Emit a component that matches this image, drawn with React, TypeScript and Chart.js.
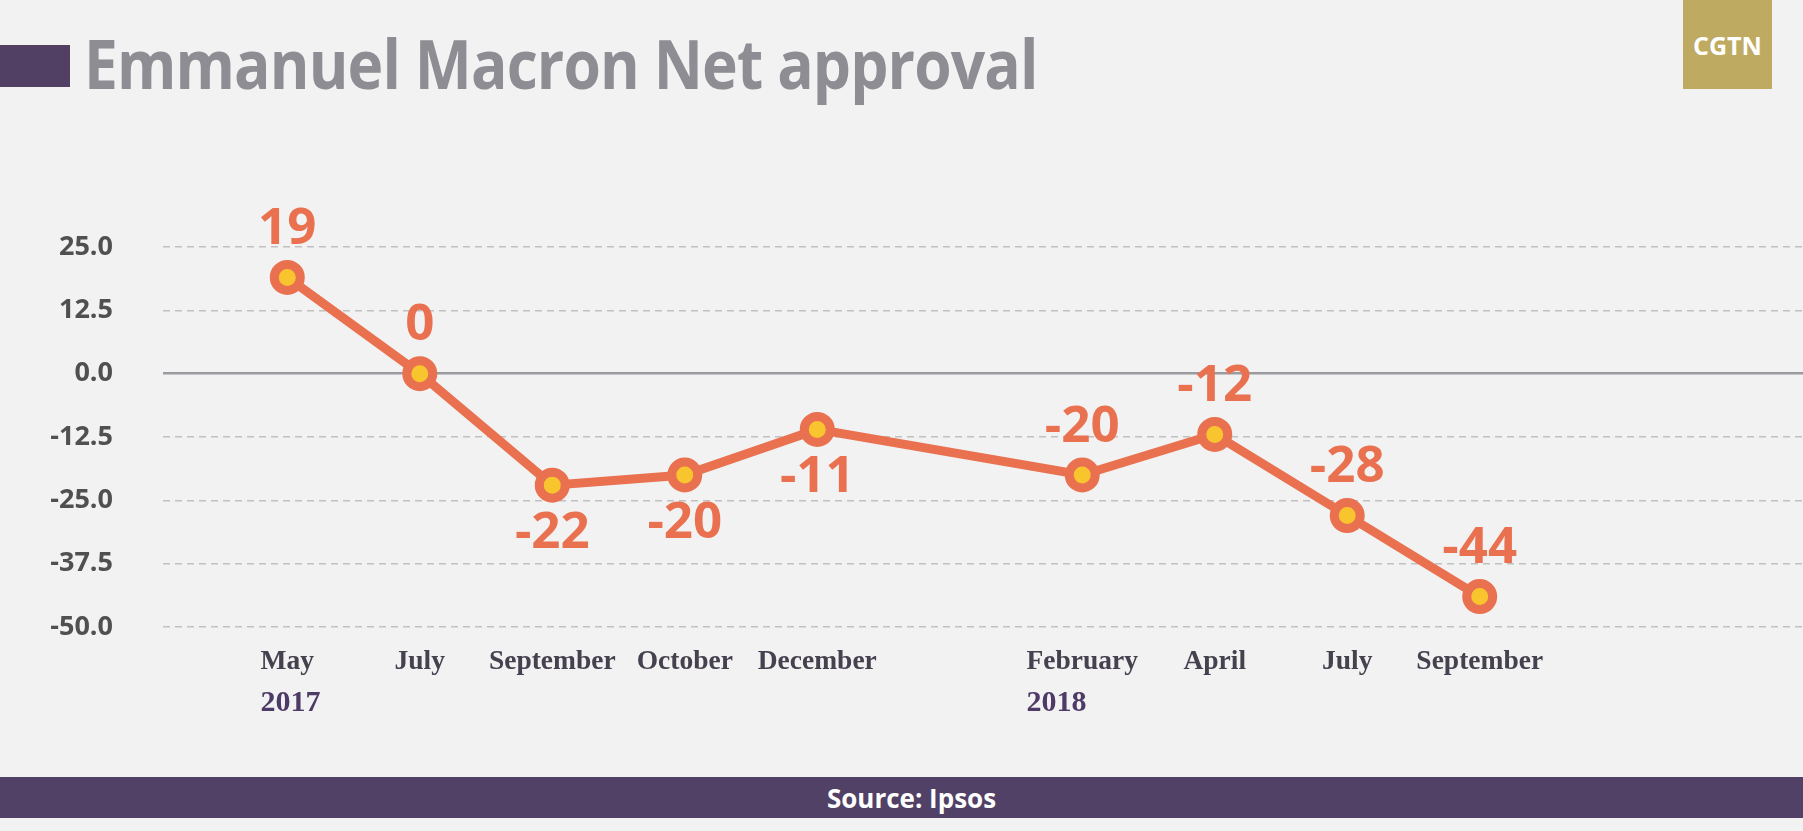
import React, { useEffect, useRef } from "react";
import { Chart, registerables } from "chart.js";

Chart.register(...registerables);

// ---- data ----
const titleText = "Emmanuel Macron Net approval";
const sourceText = "Source: Ipsos";
const logoText = "CGTN";
const months = ["May", "July", "September", "October", "December", "February", "April", "July", "September"];
const monthSlots = [0, 1, 2, 3, 4, 6, 7, 8, 9];
const approval = [19, 0, -22, -20, -11, -20, -12, -28, -44];
const years = ["2017", "2018"];
const yearSlots = [0, 6];
const labelSide = ["above", "above", "below", "below", "below", "above", "above", "above", "above"];
const yMin = -50;
const yMax = 25;
const yStep = 12.5;

const ORANGE = "#ea7150";
const YELLOW = "#f8c52f";
const PURPLE = "#524166";
const MONTH_FONT = { family: "'Liberation Serif'", size: 27.5, weight: "bold" };
const X_MIN = -0.938;
const X_MAX = 11.44;

let measureCtx: CanvasRenderingContext2D | null = null;
function monthHalfWidth(slot: number): number {
  if (!measureCtx) measureCtx = document.createElement("canvas").getContext("2d");
  const i = monthSlots.indexOf(slot);
  if (!measureCtx || i < 0) return 0;
  measureCtx.font = `${MONTH_FONT.weight} ${MONTH_FONT.size}px ${MONTH_FONT.family}`;
  return measureCtx.measureText(months[i]).width / 2;
}

const valueLabels = {
  id: "valueLabels",
  afterDatasetsDraw(chart: any) {
    const meta = chart.getDatasetMeta(0);
    const ctx = chart.ctx;
    ctx.save();
    ctx.font = "bold 51px 'Open Sans'";
    ctx.fillStyle = ORANGE;
    ctx.textAlign = "center";
    ctx.textBaseline = "middle";
    meta.data.forEach((pt: any, i: number) => {
      const dy = labelSide[i] === "above" ? -48 : 48;
      ctx.fillText(String(approval[i]), pt.x, pt.y + dy);
    });
    ctx.restore();
  },
};

export default function App() {
  const canvasRef = useRef<HTMLCanvasElement | null>(null);

  useEffect(() => {
    if (!canvasRef.current) return;
    const chart = new Chart(canvasRef.current, {
      type: "line",
      data: {
        datasets: [
          {
            data: approval.map((v, i) => ({ x: monthSlots[i], y: v })),
            borderColor: ORANGE,
            borderWidth: 9,
            pointRadius: 13,
            pointHoverRadius: 13,
            pointBorderWidth: 9,
            pointBackgroundColor: YELLOW,
            pointBorderColor: ORANGE,
            tension: 0,
            clip: false as any,
          },
        ],
      },
      options: {
        animation: false,
        responsive: true,
        maintainAspectRatio: false,
        events: [],
        layout: { autoPadding: false, padding: { top: 247, left: 0, right: 0, bottom: 0 } },
        plugins: { legend: { display: false }, tooltip: { enabled: false } },
        scales: {
          x: {
            type: "linear",
            position: "bottom",
            weight: 0,
            min: X_MIN,
            max: X_MAX,
            grid: { display: false, drawTicks: false },
            border: { display: false },
            afterBuildTicks: (s: any) => {
              s.ticks = monthSlots.map((v) => ({ value: v }));
            },
            afterFit: (s: any) => {
              s.height = 56;
            },
            ticks: {
              autoSkip: false,
              maxRotation: 0,
              minRotation: 0,
              padding: 18,
              font: MONTH_FONT,
              color: "#46414e",
              callback: (v: any) => {
                const i = monthSlots.indexOf(Number(v));
                return i >= 0 ? months[i] : "";
              },
            },
          },
          x2: {
            type: "linear",
            position: "bottom",
            weight: 1,
            min: X_MIN,
            max: X_MAX,
            grid: { display: false, drawTicks: false },
            border: { display: false },
            afterBuildTicks: (s: any) => {
              // each year label starts at the left edge of its month label
              const unitsPerPx = s.width > 0 ? (X_MAX - X_MIN) / s.width : 0;
              s.ticks = yearSlots.map((v) => ({ value: v - monthHalfWidth(v) * unitsPerPx, slot: v }));
            },
            afterFit: (s: any) => {
              s.height = 148;
            },
            ticks: {
              autoSkip: false,
              maxRotation: 0,
              minRotation: 0,
              align: "start",
              padding: 2,
              font: { family: "'Liberation Serif'", size: 30, weight: "bold" },
              color: "#4e3a66",
              callback: (_v: any, index: number) => years[index] ?? "",
            },
          },
          y: {
            type: "linear",
            min: yMin,
            max: yMax,
            afterFit: (s: any) => {
              s.width = 163;
            },
            grid: {
              drawTicks: false,
              color: (c: any) => (c.tick && c.tick.value === 0 ? "#9b9aa0" : "#c0c0c0"),
              lineWidth: (c: any) => (c.tick && c.tick.value === 0 ? 2.5 : 1.5),
            },
            border: {
              display: false,
              dash: (c: any) => (c.tick && c.tick.value === 0 ? [] : [7, 5]),
            } as any,
            ticks: {
              stepSize: yStep,
              padding: 50,
              font: { family: "'Open Sans'", size: 27, weight: "bold" },
              color: "#505050",
              callback: (v: any) => Number(v).toFixed(1),
            },
          },
        },
      },
      plugins: [valueLabels],
    } as any);
    return () => chart.destroy();
  }, []);

  return (
    <div
      style={{
        position: "fixed",
        left: 0,
        top: 0,
        width: 1803,
        height: 831,
        background: "#f2f2f2",
        overflow: "hidden",
        fontFamily: "'Open Sans', sans-serif",
      }}
    >
      <div style={{ position: "absolute", left: 0, top: 0, width: 1803, height: 831 }}>
        <canvas ref={canvasRef} />
      </div>
      <div style={{ position: "absolute", left: 0, top: 45, width: 70, height: 42, background: "#523f64" }} />
      <div
        style={{
          position: "absolute",
          left: 84,
          top: 29,
          fontSize: 68,
          lineHeight: 1,
          fontWeight: 700,
          color: "#8e8d93",
          whiteSpace: "nowrap",
          transform: "scaleX(0.89)",
          transformOrigin: "left top",
          letterSpacing: -1,
        }}
      >
        {titleText}
      </div>
      <div
        style={{
          position: "absolute",
          left: 1683,
          top: 0,
          width: 89,
          height: 89,
          background: "#bfaa62",
          color: "#ffffff",
          fontWeight: 700,
          fontSize: 25,
          display: "flex",
          alignItems: "center",
          justifyContent: "center",
        }}
      >
        {logoText}
      </div>
      <div
        style={{
          position: "absolute",
          left: 0,
          top: 777,
          width: 1803,
          height: 41,
          background: PURPLE,
          color: "#ffffff",
          fontWeight: 700,
          fontSize: 26,
          display: "flex",
          alignItems: "center",
          justifyContent: "center",
          paddingLeft: 20,
          boxSizing: "border-box",
        }}
      >
        {sourceText}
      </div>
    </div>
  );
}
